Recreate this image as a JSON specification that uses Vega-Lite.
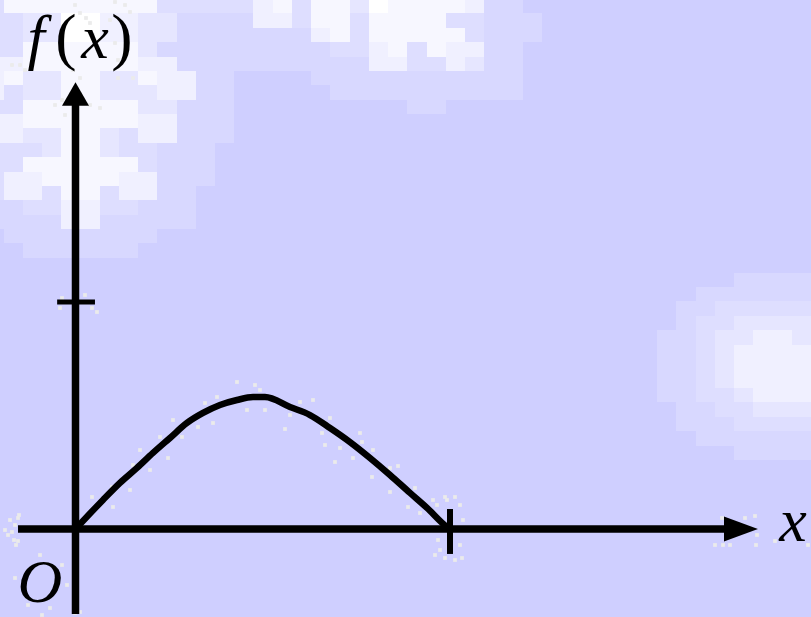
{"$schema":"https://vega.github.io/schema/vega-lite/v6.json","width":811,"height":617,"padding":0,"autosize":{"type":"none"},"background":"#cfcfff","config":{"view":{"stroke":null}},"resolve":{"scale":{"x":"independent","y":"independent"}},
"datasets":{
"cloud":[
{"a":0,"b":4,"t":0,"u":13,"l":2},{"a":4,"b":157,"t":0,"u":13,"l":5},{"a":157,"b":253,"t":0,"u":13,"l":2},{"a":253,"b":273,"t":0,"u":13,"l":4},{"a":273,"b":292,"t":0,"u":13,"l":5},{"a":292,"b":311,"t":0,"u":13,"l":2},{"a":311,"b":350,"t":0,"u":13,"l":5},{"a":350,"b":369,"t":0,"u":13,"l":3},{"a":369,"b":388,"t":0,"u":13,"l":6},{"a":388,"b":465,"t":0,"u":13,"l":5},{"a":465,"b":484,"t":0,"u":13,"l":4},{"a":484,"b":523,"t":0,"u":13,"l":1},
{"a":0,"b":23,"t":13,"u":42,"l":2},{"a":23,"b":61,"t":13,"u":42,"l":3},{"a":61,"b":100,"t":13,"u":42,"l":6},{"a":100,"b":138,"t":13,"u":42,"l":4},{"a":138,"b":177,"t":13,"u":42,"l":3},{"a":177,"b":253,"t":13,"u":28,"l":1},{"a":177,"b":311,"t":28,"u":42,"l":1},{"a":253,"b":292,"t":13,"u":28,"l":4},{"a":292,"b":311,"t":13,"u":28,"l":2},{"a":311,"b":350,"t":13,"u":28,"l":5},{"a":350,"b":369,"t":13,"u":42,"l":2},{"a":369,"b":446,"t":13,"u":28,"l":5},{"a":446,"b":484,"t":13,"u":28,"l":2},{"a":484,"b":542,"t":13,"u":42,"l":1},{"a":311,"b":330,"t":28,"u":42,"l":4},{"a":330,"b":350,"t":28,"u":42,"l":5},{"a":369,"b":465,"t":28,"u":42,"l":5},{"a":465,"b":484,"t":28,"u":42,"l":2},
{"a":0,"b":4,"t":42,"u":57,"l":2},{"a":4,"b":23,"t":42,"u":57,"l":2},{"a":23,"b":61,"t":42,"u":57,"l":5},{"a":61,"b":100,"t":42,"u":57,"l":5},{"a":100,"b":138,"t":42,"u":57,"l":5},{"a":138,"b":157,"t":42,"u":57,"l":3},{"a":157,"b":330,"t":42,"u":57,"l":1},{"a":330,"b":369,"t":42,"u":57,"l":2},{"a":369,"b":388,"t":42,"u":57,"l":4},{"a":388,"b":407,"t":42,"u":57,"l":5},{"a":407,"b":427,"t":42,"u":57,"l":2},{"a":427,"b":446,"t":42,"u":57,"l":5},{"a":446,"b":484,"t":42,"u":57,"l":4},{"a":484,"b":523,"t":42,"u":57,"l":1},
{"a":0,"b":23,"t":57,"u":71,"l":4},{"a":23,"b":138,"t":57,"u":71,"l":5},{"a":138,"b":177,"t":57,"u":71,"l":4},{"a":177,"b":369,"t":57,"u":71,"l":1},{"a":369,"b":407,"t":57,"u":71,"l":4},{"a":407,"b":446,"t":57,"u":71,"l":2},{"a":446,"b":465,"t":57,"u":71,"l":4},{"a":465,"b":484,"t":57,"u":71,"l":3},{"a":484,"b":523,"t":57,"u":71,"l":1},
{"a":0,"b":4,"t":71,"u":100,"l":4},{"a":4,"b":23,"t":71,"u":85,"l":5},{"a":4,"b":23,"t":85,"u":100,"l":2},{"a":23,"b":61,"t":71,"u":100,"l":3},{"a":61,"b":100,"t":71,"u":100,"l":5},{"a":100,"b":138,"t":71,"u":100,"l":3},{"a":138,"b":157,"t":71,"u":85,"l":5},{"a":138,"b":157,"t":85,"u":100,"l":3},{"a":157,"b":196,"t":71,"u":100,"l":4},{"a":196,"b":234,"t":71,"u":100,"l":1},{"a":311,"b":523,"t":71,"u":85,"l":1},{"a":330,"b":523,"t":85,"u":100,"l":1},{"a":407,"b":446,"t":100,"u":114,"l":1},
{"a":0,"b":23,"t":100,"u":114,"l":2},{"a":23,"b":138,"t":100,"u":114,"l":5},{"a":138,"b":177,"t":100,"u":114,"l":3},{"a":177,"b":234,"t":100,"u":114,"l":1},
{"a":0,"b":23,"t":114,"u":128,"l":4},{"a":23,"b":138,"t":114,"u":128,"l":5},{"a":138,"b":177,"t":114,"u":128,"l":4},{"a":177,"b":234,"t":114,"u":128,"l":1},
{"a":0,"b":23,"t":128,"u":143,"l":4},{"a":23,"b":61,"t":128,"u":143,"l":3},{"a":61,"b":100,"t":128,"u":143,"l":5},{"a":100,"b":119,"t":128,"u":143,"l":3},{"a":119,"b":138,"t":128,"u":143,"l":2},{"a":138,"b":177,"t":128,"u":143,"l":4},{"a":177,"b":234,"t":128,"u":143,"l":1},
{"a":0,"b":42,"t":143,"u":157,"l":2},{"a":42,"b":61,"t":143,"u":157,"l":3},{"a":61,"b":100,"t":143,"u":157,"l":5},{"a":100,"b":119,"t":143,"u":157,"l":3},{"a":119,"b":157,"t":143,"u":157,"l":2},{"a":157,"b":215,"t":143,"u":157,"l":1},
{"a":0,"b":23,"t":157,"u":172,"l":2},{"a":23,"b":138,"t":157,"u":172,"l":5},{"a":138,"b":157,"t":157,"u":172,"l":2},{"a":157,"b":215,"t":157,"u":172,"l":1},
{"a":0,"b":4,"t":172,"u":200,"l":2},{"a":4,"b":42,"t":172,"u":200,"l":4},{"a":42,"b":119,"t":172,"u":186,"l":5},{"a":119,"b":157,"t":172,"u":200,"l":4},{"a":157,"b":215,"t":172,"u":186,"l":1},{"a":42,"b":61,"t":186,"u":200,"l":2},{"a":61,"b":100,"t":186,"u":200,"l":5},{"a":100,"b":119,"t":186,"u":200,"l":2},{"a":157,"b":196,"t":186,"u":229,"l":1},
{"a":0,"b":23,"t":200,"u":215,"l":1},{"a":23,"b":61,"t":200,"u":215,"l":2},{"a":61,"b":100,"t":200,"u":229,"l":4},{"a":100,"b":138,"t":200,"u":215,"l":2},{"a":138,"b":157,"t":200,"u":229,"l":1},{"a":0,"b":61,"t":215,"u":229,"l":1},{"a":100,"b":138,"t":215,"u":229,"l":1},{"a":4,"b":157,"t":229,"u":243,"l":1},{"a":23,"b":138,"t":243,"u":258,"l":1},
{"a":734,"b":811,"t":273,"u":287,"l":1},{"a":696,"b":811,"t":287,"u":301,"l":1},{"a":676,"b":715,"t":301,"u":316,"l":1},{"a":715,"b":811,"t":301,"u":316,"l":2},{"a":676,"b":696,"t":316,"u":330,"l":1},{"a":696,"b":734,"t":316,"u":330,"l":2},{"a":734,"b":811,"t":316,"u":330,"l":3},
{"a":657,"b":696,"t":330,"u":402,"l":1},{"a":696,"b":715,"t":330,"u":388,"l":2},{"a":715,"b":753,"t":330,"u":345,"l":3},{"a":753,"b":792,"t":330,"u":345,"l":4},{"a":792,"b":811,"t":330,"u":345,"l":3},{"a":715,"b":734,"t":345,"u":388,"l":3},{"a":734,"b":811,"t":345,"u":388,"l":4},{"a":696,"b":734,"t":388,"u":402,"l":2},{"a":734,"b":753,"t":388,"u":402,"l":3},{"a":753,"b":811,"t":388,"u":402,"l":4},
{"a":676,"b":715,"t":402,"u":417,"l":1},{"a":715,"b":753,"t":402,"u":417,"l":2},{"a":753,"b":811,"t":402,"u":417,"l":3},{"a":676,"b":734,"t":417,"u":431,"l":1},{"a":734,"b":811,"t":417,"u":431,"l":2},{"a":696,"b":811,"t":431,"u":446,"l":1},{"a":734,"b":811,"t":446,"u":460,"l":1}
],
"speck":[
{"a":5,"t":530},{"a":10,"t":520},{"a":15,"t":525},{"a":8,"t":535},{"a":18,"t":518},{"a":14,"t":540},{"a":16,"t":545},{"a":19,"t":515},{"a":12,"t":532},{"a":18,"t":541},
{"a":437,"t":505},{"a":445,"t":497},{"a":455,"t":497},{"a":460,"t":505},{"a":463,"t":520},{"a":438,"t":540},{"a":440,"t":550},{"a":435,"t":555},{"a":445,"t":558},{"a":455,"t":560},{"a":462,"t":558},{"a":460,"t":545},
{"a":722,"t":518},{"a":723,"t":545},{"a":715,"t":545},{"a":730,"t":545},{"a":745,"t":518},{"a":755,"t":516},{"a":757,"t":535},{"a":756,"t":545},
{"a":62,"t":298},{"a":92,"t":308},{"a":97,"t":312},{"a":60,"t":308},{"a":85,"t":295},
{"a":75,"t":5},{"a":80,"t":13},{"a":86,"t":18},{"a":110,"t":20},{"a":115,"t":2},{"a":125,"t":5},{"a":130,"t":12},{"a":90,"t":23},{"a":93,"t":35},{"a":100,"t":55},{"a":115,"t":43},{"a":118,"t":60},{"a":73,"t":70},{"a":80,"t":78},{"a":118,"t":78},{"a":133,"t":78},{"a":20,"t":65},{"a":12,"t":65},{"a":25,"t":70},{"a":55,"t":105},{"a":65,"t":115},{"a":90,"t":105},{"a":100,"t":108},{"a":62,"t":100},
{"a":92,"t":497},{"a":113,"t":507},{"a":112,"t":487},{"a":133,"t":465},{"a":130,"t":490},{"a":140,"t":450},{"a":150,"t":470},{"a":160,"t":437},{"a":168,"t":458},{"a":173,"t":420},{"a":182,"t":437},{"a":198,"t":427},{"a":205,"t":403},{"a":213,"t":423},{"a":217,"t":397},{"a":247,"t":410},{"a":237,"t":382},{"a":255,"t":385},{"a":265,"t":410},{"a":260,"t":390},{"a":300,"t":402},{"a":290,"t":415},{"a":285,"t":429},{"a":313,"t":400},{"a":330,"t":418},{"a":322,"t":433},{"a":325,"t":445},{"a":340,"t":448},{"a":335,"t":462},{"a":360,"t":433},{"a":362,"t":442},{"a":373,"t":450},{"a":353,"t":458},{"a":372,"t":477},{"a":390,"t":468},{"a":398,"t":466},{"a":390,"t":492},{"a":415,"t":488},{"a":408,"t":507},{"a":420,"t":513},{"a":433,"t":500},{"a":447,"t":500},
{"a":40,"t":555},{"a":62,"t":565},{"a":15,"t":578},{"a":67,"t":585},{"a":28,"t":605},{"a":50,"t":608},{"a":42,"t":615},{"a":75,"t":613},{"a":80,"t":612},{"a":775,"t":541},{"a":808,"t":545}
],
"axes":[{"x":-0.1535,"x2":1.788,"y":0,"y2":0},{"x":0,"x2":0,"y":-0.374,"y2":1.89}],
"xtick":[{"x":1,"x2":1,"y":-0.11,"y2":0.088}],
"ytick":[{"x":-0.049,"x2":0.052,"y":1,"y2":1}],
"curve":[
{"x":0,"y":0},{"x":0.0734,"y":0.128},{"x":0.1188,"y":0.203},{"x":0.1642,"y":0.269},{"x":0.2069,"y":0.335},{"x":0.2523,"y":0.401},{"x":0.2977,"y":0.467},{"x":0.3405,"y":0.511},{"x":0.3858,"y":0.546},{"x":0.4312,"y":0.568},{"x":0.474,"y":0.581},{"x":0.506,"y":0.581},{"x":0.5728,"y":0.537},{"x":0.6262,"y":0.502},{"x":0.6796,"y":0.445},{"x":0.733,"y":0.383},{"x":0.7864,"y":0.313},{"x":0.8398,"y":0.238},{"x":0.8932,"y":0.159},{"x":0.9386,"y":0.093},{"x":0.992,"y":0.009},{"x":1,"y":0}
],
"ital":[{"a":36,"t":58,"s":"f"},{"a":95,"t":58,"s":"x"},{"a":793,"t":541,"s":"x"}],
"cap":[{"a":40,"t":602,"s":"O"}],
"rom":[{"a":66,"t":58,"s":"("},{"a":122,"t":58,"s":")"}]
},
"layer":[
{"data":{"name":"cloud"},"mark":{"type":"rect"},"encoding":{"x":{"field":"a","type":"quantitative","axis":null,"scale":{"domain":[0,811],"nice":false,"zero":false}},"x2":{"field":"b"},"y":{"field":"t","type":"quantitative","axis":null,"scale":{"domain":[617,0],"nice":false,"zero":false}},"y2":{"field":"u"},"color":{"field":"l","type":"ordinal","legend":null,"scale":{"domain":[1,2,3,4,5,6],"range":["#d8d8ff","#dedeff","#e6e6ff","#f0f0ff","#f7f7ff","#ffffff"]}}}},
{"data":{"name":"speck"},"mark":{"type":"square","size":14,"opacity":1,"color":"#ebebeb"},"encoding":{"x":{"field":"a","type":"quantitative","axis":null,"scale":{"domain":[0,811],"nice":false,"zero":false}},"y":{"field":"t","type":"quantitative","axis":null,"scale":{"domain":[617,0],"nice":false,"zero":false}}}},
{"data":{"name":"axes"},"mark":{"type":"rule","color":"#000000","strokeWidth":7.5},"encoding":{"x":{"field":"x","type":"quantitative","axis":null,"scale":{"domain":[-0.2016,1.964],"nice":false,"zero":false}},"x2":{"field":"x2"},"y":{"field":"y","type":"quantitative","axis":null,"scale":{"domain":[-0.3877,2.33],"nice":false,"zero":false}},"y2":{"field":"y2"}}},
{"data":{"name":"xtick"},"mark":{"type":"rule","color":"#000000","strokeWidth":6},"encoding":{"x":{"field":"x","type":"quantitative","axis":null,"scale":{"domain":[-0.2016,1.964],"nice":false,"zero":false}},"x2":{"field":"x2"},"y":{"field":"y","type":"quantitative","axis":null,"scale":{"domain":[-0.3877,2.33],"nice":false,"zero":false}},"y2":{"field":"y2"}}},
{"data":{"name":"ytick"},"mark":{"type":"rule","color":"#000000","strokeWidth":5},"encoding":{"x":{"field":"x","type":"quantitative","axis":null,"scale":{"domain":[-0.2016,1.964],"nice":false,"zero":false}},"x2":{"field":"x2"},"y":{"field":"y","type":"quantitative","axis":null,"scale":{"domain":[-0.3877,2.33],"nice":false,"zero":false}},"y2":{"field":"y2"}}},
{"data":{"values":[{"x":0,"y":1.916}]},"mark":{"type":"point","shape":"triangle-up","size":729,"filled":true,"opacity":1,"color":"#000000"},"encoding":{"x":{"field":"x","type":"quantitative","axis":null,"scale":{"domain":[-0.2016,1.964],"nice":false,"zero":false}},"y":{"field":"y","type":"quantitative","axis":null,"scale":{"domain":[-0.3877,2.33],"nice":false,"zero":false}}}},
{"data":{"values":[{"x":1.777,"y":0}]},"mark":{"type":"point","shape":"M-1,-0.73L1,0L-1,0.73Z","size":1156,"filled":true,"opacity":1,"color":"#000000"},"encoding":{"x":{"field":"x","type":"quantitative","axis":null,"scale":{"domain":[-0.2016,1.964],"nice":false,"zero":false}},"y":{"field":"y","type":"quantitative","axis":null,"scale":{"domain":[-0.3877,2.33],"nice":false,"zero":false}}}},
{"data":{"name":"curve"},"mark":{"type":"line","color":"#000000","strokeWidth":6.5,"interpolate":"monotone"},"encoding":{"x":{"field":"x","type":"quantitative","axis":null,"scale":{"domain":[-0.2016,1.964],"nice":false,"zero":false}},"y":{"field":"y","type":"quantitative","axis":null,"scale":{"domain":[-0.3877,2.33],"nice":false,"zero":false}}}},
{"data":{"name":"ital"},"mark":{"type":"text","font":"Liberation Serif","fontStyle":"italic","fontSize":62,"align":"center","baseline":"alphabetic","color":"#000000"},"encoding":{"x":{"field":"a","type":"quantitative","axis":null,"scale":{"domain":[0,811],"nice":false,"zero":false}},"y":{"field":"t","type":"quantitative","axis":null,"scale":{"domain":[617,0],"nice":false,"zero":false}},"text":{"field":"s"}}},
{"data":{"name":"cap"},"mark":{"type":"text","font":"Liberation Serif","fontStyle":"italic","fontSize":62,"align":"center","baseline":"alphabetic","color":"#000000"},"encoding":{"x":{"field":"a","type":"quantitative","axis":null,"scale":{"domain":[0,811],"nice":false,"zero":false}},"y":{"field":"t","type":"quantitative","axis":null,"scale":{"domain":[617,0],"nice":false,"zero":false}},"text":{"field":"s"}}},
{"data":{"name":"rom"},"mark":{"type":"text","font":"Liberation Serif","fontSize":64,"align":"center","baseline":"alphabetic","color":"#000000"},"encoding":{"x":{"field":"a","type":"quantitative","axis":null,"scale":{"domain":[0,811],"nice":false,"zero":false}},"y":{"field":"t","type":"quantitative","axis":null,"scale":{"domain":[617,0],"nice":false,"zero":false}},"text":{"field":"s"}}}
]}
